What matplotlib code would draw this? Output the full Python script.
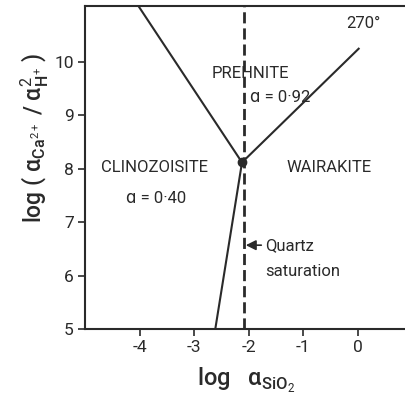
import matplotlib.pyplot as plt

plt.rcParams['font.family'] = ['Roboto', 'DejaVu Sans']
plt.rcParams['mathtext.fontset'] = 'custom'
plt.rcParams['mathtext.rm'] = 'Roboto'
plt.rcParams['mathtext.bf'] = 'Roboto:bold'

ink = '#2a2a2a'

# phase boundaries
quartz_sat = -2.08
triple_x, triple_y = -2.12, 8.12
clino_preh_x = [-2.12, -4.02]
clino_preh_y = [8.12, 11.05]
preh_wair_x = [-2.12, 0.02]
preh_wair_y = [8.12, 10.25]
clino_wair_x = [-2.12, -2.61]
clino_wair_y = [8.12, 5.0]

xticks = [-4, -3, -2, -1, 0]
xtick_labels = ['-4', '-3', '-2', '-1', '0']
yticks = [5, 6, 7, 8, 9, 10]

fig = plt.figure(figsize=(4.05, 4.03), dpi=100)
ax = fig.add_axes([85 / 405, 74 / 403, 320 / 405, 323 / 403])

ax.axvline(quartz_sat, color=ink, lw=2.0, ls=(0, (4.0, 1.8)))
ax.plot(clino_preh_x, clino_preh_y, color=ink, lw=1.5)
ax.plot(preh_wair_x, preh_wair_y, color=ink, lw=1.5)
ax.plot(clino_wair_x, clino_wair_y, color=ink, lw=1.5)
ax.plot(triple_x, triple_y, 'o', color=ink, ms=6)

ax.set_xlim(-5.0, 0.87)
ax.set_ylim(5, 11.05)
ax.set_xticks(xticks)
ax.set_xticklabels(xtick_labels)
ax.set_yticks(yticks)
ax.tick_params(direction='out', length=5, width=1.2, colors=ink, labelsize=12.5, pad=3)
for side in ['left', 'top', 'bottom']:
    ax.spines[side].set_linewidth(1.5)
    ax.spines[side].set_color(ink)
ax.spines['right'].set_visible(False)

fs = 12
lab = dict(color=ink, fontsize=fs, ha='center', va='center')
ax.text(0.11, 10.73, '270°', **lab)
ax.text(-1.96, 9.79, 'PREHNITE', **lab)
ax.text(-1.98, 9.34, 'ɑ = 0·92', color=ink, fontsize=fs, ha='left', va='center')
ax.text(-3.72, 8.02, 'CLINOZOISITE', **lab)
ax.text(-3.70, 7.45, 'ɑ = 0·40', **lab)
ax.text(-0.52, 8.02, 'WAIRAKITE', **lab)
ax.annotate('Quartz', xy=(-2.05, 6.57), xytext=(-1.69, 6.57), color=ink,
            fontsize=fs, ha='left', va='center',
            arrowprops=dict(arrowstyle='-|>,head_length=0.5,head_width=0.25',
                            color=ink, lw=1.2, shrinkA=1, shrinkB=0))
ax.text(-1.69, 6.07, 'saturation', color=ink, fontsize=fs, ha='left', va='center')

fig.text(246 / 405, 1 - 380 / 403, r'log   ɑ$_{\mathregular{SiO}_{2}}$',
         color=ink, fontsize=17, fontweight='medium', ha='center', va='center')
fig.text(35 / 405, 1 - 138 / 403,
         r'log ( ɑ$_{\mathregular{Ca}^{2+}}$ / ɑ$^{2}_{\mathregular{H}^{+}}$ )',
         color=ink, fontsize=16.5, fontweight='medium', rotation=90,
         ha='center', va='center')

fig.savefig('out.png', dpi=100)
